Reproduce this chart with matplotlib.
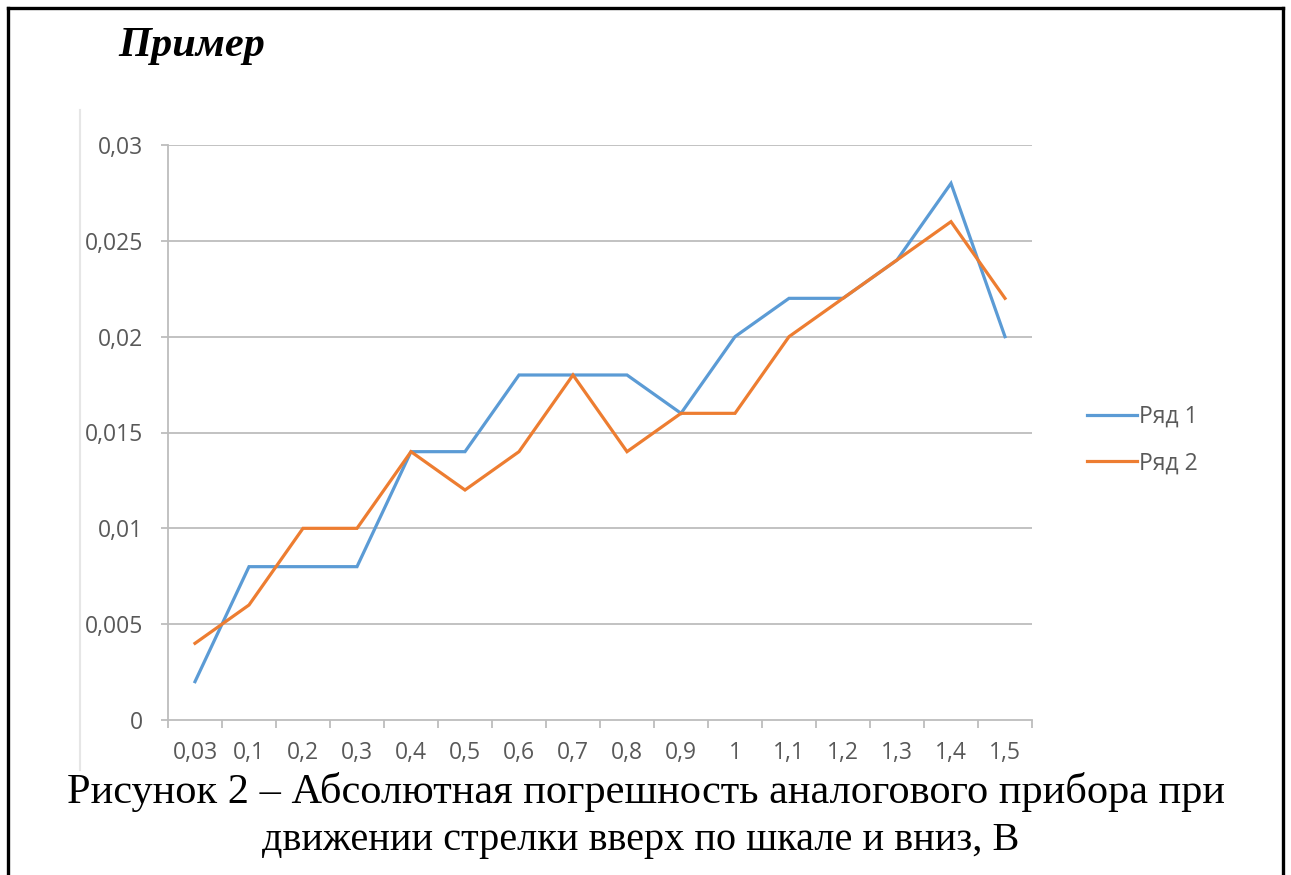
import matplotlib
matplotlib.use("Agg")
import matplotlib.pyplot as plt
from matplotlib.lines import Line2D
import numpy as np

categories = ["0,03", "0,1", "0,2", "0,3", "0,4", "0,5", "0,6", "0,7",
              "0,8", "0,9", "1", "1,1", "1,2", "1,3", "1,4", "1,5"]
series1 = [0.002, 0.008, 0.008, 0.008, 0.014, 0.014, 0.018, 0.018,
           0.018, 0.016, 0.020, 0.022, 0.022, 0.024, 0.028, 0.020]
series2 = [0.004, 0.006, 0.010, 0.010, 0.014, 0.012, 0.014, 0.018,
           0.014, 0.016, 0.016, 0.020, 0.022, 0.024, 0.026, 0.022]
series_names = ["Ряд 1", "Ряд 2"]
yticks = [0, 0.005, 0.01, 0.015, 0.02, 0.025, 0.03]
ytick_labels = ["0", "0,005", "0,01", "0,015", "0,02", "0,025", "0,03"]
title = "Пример"
caption1 = "Рисунок 2 – Абсолютная погрешность аналогового прибора при"
caption2 = "движении стрелки вверх по шкале и вниз, В"

W, H = 1291, 875
fig = plt.figure(figsize=(W / 100, H / 100), dpi=100)
fig.patch.set_facecolor("white")

ax = fig.add_axes([168 / W, 1 - 720 / H, (1032 - 168) / W, (720 - 145) / H])
x = np.arange(len(categories))
c1, c2 = "#5B9BD5", "#ED7D31"
ax.plot(x, series1, color=c1, lw=2.3, label=series_names[0], solid_joinstyle="miter")
ax.plot(x, series2, color=c2, lw=2.3, label=series_names[1], solid_joinstyle="miter")

ax.set_xlim(-0.5, len(categories) - 0.5)
ax.set_ylim(0, 0.03)
ax.set_yticks(yticks)
ax.set_yticklabels(ytick_labels)
ax.set_xticks(x)
ax.set_xticklabels(categories)
ax.set_xticks(np.arange(-0.5, len(categories)), minor=True)

gridc = "#BDBDBD"
textc = "#595959"
for v in yticks[1:]:
    ax.axhline(v, color=gridc, lw=1.3, zorder=0)
for s in ["top", "right"]:
    ax.spines[s].set_visible(False)
for s in ["left", "bottom"]:
    ax.spines[s].set_color(gridc)
    ax.spines[s].set_linewidth(1.3)

fontname = "Open Sans"
fs = 16.5
ax.tick_params(axis="y", length=5, color=gridc, width=1.3, pad=13,
               labelsize=fs, labelcolor=textc)
ax.tick_params(axis="x", which="major", length=0, pad=15,
               labelsize=fs, labelcolor=textc)
ax.tick_params(axis="x", which="minor", length=6, color=gridc, width=1.3)
for lab in ax.get_xticklabels() + ax.get_yticklabels():
    lab.set_fontfamily(fontname)

leg = fig.legend(handles=ax.get_lines(), labels=series_names,
                 loc="center left", bbox_to_anchor=(1066 / W, 1 - 440 / H),
                 frameon=False, handlelength=2.2, handletextpad=0.1,
                 labelspacing=1.0, prop={"family": fontname, "size": fs})
for t in leg.get_texts():
    t.set_color(textc)

fig.text(118 / W, 1 - 56 / H, title, fontfamily="Liberation Serif",
         fontsize=30.5, fontweight="bold", fontstyle="italic", ha="left",
         va="baseline")
fig.text(646 / W, 1 - 803 / H, caption1, fontfamily="Liberation Serif",
         fontsize=30.5, ha="center", va="baseline")
fig.text(641 / W, 1 - 850 / H, caption2, fontfamily="Liberation Serif",
         fontsize=29, ha="center", va="baseline")

# faint edge of the embedded chart image
fig.add_artist(Line2D([80 / W, 80 / W], [1 - 110 / H, 1 - 770 / H],
                      color="#E6E6E6", lw=1.5, transform=fig.transFigure))
# document frame
frame = dict(color="black", lw=2.4, transform=fig.transFigure, solid_capstyle="projecting")
fig.add_artist(Line2D([8 / W, 8 / W], [0, 1 - 8 / H], **frame))
fig.add_artist(Line2D([1283 / W, 1283 / W], [0, 1 - 8 / H], **frame))
fig.add_artist(Line2D([8 / W, 1283 / W], [1 - 8 / H, 1 - 8 / H], **frame))

fig.savefig("out.png", dpi=100)
